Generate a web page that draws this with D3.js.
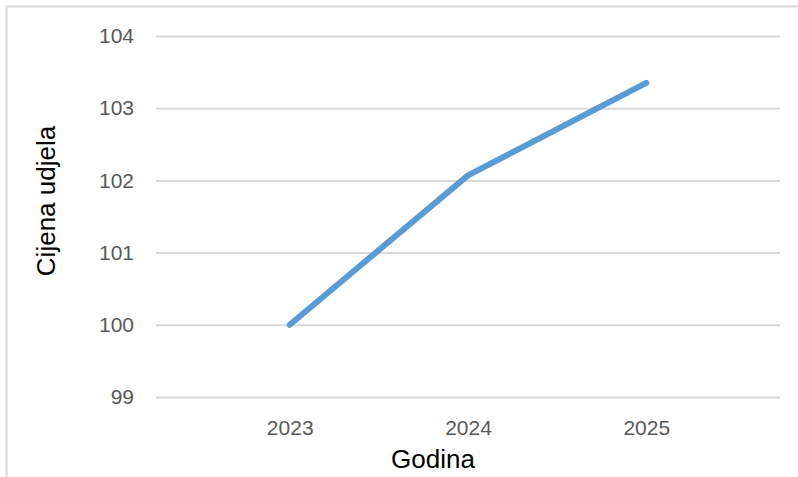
<!DOCTYPE html>
<html>
<head>
<meta charset="utf-8">
<script src="https://cdn.jsdelivr.net/npm/d3@7"></script>
<style>
  body { margin: 0; background: #fff; }
  svg { display: block; font-family: "Liberation Sans", Arial, sans-serif; }
</style>
</head>
<body>
<div id="chart"></div>
<script>
const years = ["2023", "2024", "2025"];
const prices = [100, 102.07, 103.35];
const yTicks = [99, 100, 101, 102, 103, 104];

const width = 798, height = 477;
const margin = { top: 36, right: 18, bottom: 80, left: 156 };

const svg = d3.select("#chart")
  .append("svg")
  .attr("width", width)
  .attr("height", height);

// chart frame (only top and left edges are visible in the crop)
svg.append("path")
  .attr("d", `M6.5,${height} V6.5 H${width}`)
  .attr("fill", "none")
  .attr("stroke", "#d9d9d9")
  .attr("stroke-width", 2);

const x = d3.scalePoint()
  .domain(years)
  .range([margin.left, width - margin.right])
  .padding(0.75);

const y = d3.scaleLinear()
  .domain([99, 104])
  .range([397, 36]);

// gridlines + y labels
const yAxis = svg.append("g")
  .attr("transform", `translate(${margin.left},0)`)
  .call(d3.axisLeft(y)
    .tickValues(yTicks)
    .tickFormat(d3.format("d"))
    .tickSize(-(width - margin.right - margin.left))
    .tickPadding(22));

yAxis.select(".domain").remove();
yAxis.selectAll("line").attr("stroke", "#d9d9d9").attr("stroke-width", 2);
yAxis.selectAll("text")
  .attr("fill", "#595959")
  .style("font-size", "21px")
  .style("font-family", "Liberation Sans, Arial, sans-serif");

// x labels
const xAxis = svg.append("g")
  .attr("transform", `translate(0,${y(99)})`)
  .call(d3.axisBottom(x).tickSize(0).tickPadding(23));

xAxis.select(".domain").remove();
xAxis.selectAll("text")
  .attr("fill", "#595959")
  .style("font-size", "21px")
  .style("font-family", "Liberation Sans, Arial, sans-serif");

const line = d3.line()
  .x((d, i) => x(years[i]))
  .y(d => y(d));

svg.append("path")
  .datum(prices)
  .attr("d", line)
  .attr("fill", "none")
  .attr("stroke", "#5b9bd5")
  .attr("stroke-width", 6)
  .attr("stroke-linecap", "round")
  .attr("stroke-linejoin", "round");

// axis titles
svg.append("text")
  .attr("x", 433)
  .attr("y", 468)
  .attr("text-anchor", "middle")
  .attr("fill", "#000")
  .style("font-size", "26px")
  .text("Godina");

svg.append("text")
  .attr("transform", "translate(55,201) rotate(-90)")
  .attr("text-anchor", "middle")
  .attr("fill", "#000")
  .style("font-size", "26px")
  .text("Cijena udjela");
</script>
</body>
</html>
